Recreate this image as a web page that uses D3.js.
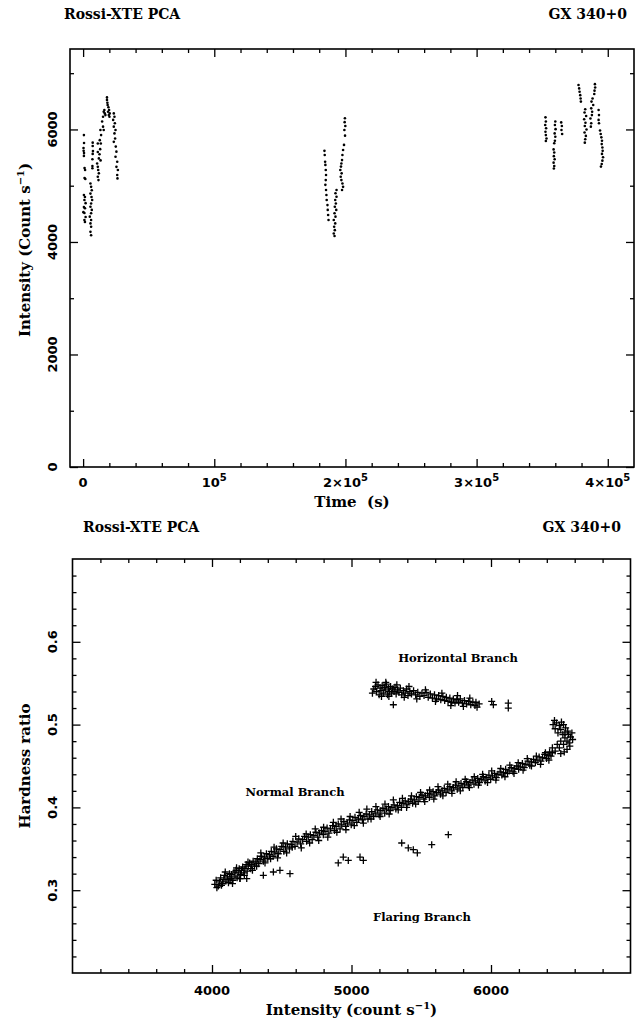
<!DOCTYPE html>
<html><head><meta charset="utf-8">
<script src="https://cdn.jsdelivr.net/npm/d3@7"></script>
<style>body{margin:0;background:#fff}</style>
</head><body><svg id="c" width="636" height="1022"></svg>
<script>
// ---------- Light curve (time s, intensity count/s) ----------
const lcCluster1 = [
 [600,5900],[700,5760],[300,5670],[400,5620],[700,5580],[600,5530],[1100,5315],[1500,5280],[1100,5135],[1700,5120],
 [600,4835],[1400,4800],[1000,4745],[1900,4690],[600,4620],[1400,4600],[200,4530],[1000,4515],[1900,4445],[1000,4390],[1400,4355],
 [7300,5765],[7300,5705],[7500,5615],[7300,5565],[7100,5470],[7100,5350],[7100,5310],
 [5600,5040],[6100,4980],[6600,4920],[5600,4860],[6400,4800],[6900,4745],[6100,4685],[5600,4625],[6600,4570],[6100,4510],[5100,4450],[6100,4390],[5600,4330],[6100,4270],[5600,4180],[6100,4120],
 [11200,5750],[11200,5600],[12000,5485],[10700,5395],[11200,5335],[11500,5280],[12000,5220],[11200,5160],[11700,5100],
 [13200,5990],[13700,5900],[12700,5810],[13500,5750],[13000,5650],[12500,5560],[13300,5450],
 [14500,6140],[15200,6225],[15700,6315],[16500,6285],[16200,6345],[17000,6255],[15200,6050],[15700,5990],
 [18200,6570],[18200,6525],[18500,6475],[18700,6435],[19300,6395],[19800,6345],[19000,6315],[20300,6285],[19600,6255],[20100,6225],
 [23400,6285],[23900,6225],[22900,6170],[24200,6110],[23400,6050],[24700,5990],[23900,5930],[24400,5840],[23400,5780],[24900,5695],
 [25400,5605],[24700,5515],[26000,5425],[25400,5335],[26500,5280],[26000,5190],[26200,5130]
];
const lcCluster2 = [
 [184000,5620],[184200,5545],[184500,5425],[184700,5370],[185000,5280],[185200,5190],[185000,5100],[184700,5015],[185200,4925],
 [185500,4835],[185700,4745],[186300,4655],[186500,4570],[186800,4480],[187100,4390],
 [193200,4925],[192400,4865],[193200,4805],[192200,4745],[192700,4685],[191900,4625],[193000,4570],[191700,4510],[192400,4450],[191100,4390],[192200,4330],[191400,4270],[191900,4210],[191100,4150],[191700,4105],
 [199700,5890],[198900,5725],[198200,5635],[197700,5545],[197400,5455],[196900,5395],[196600,5340],[196100,5280],[197100,5220],[196400,5160],[196900,5100],[197700,5040],[198200,4980],[197400,4925],
 [199600,6200],[199400,6130],[199900,6060],[199200,5990]
];
const lcCluster3 = [
 [352500,6215],[352800,6140],[352300,6080],[353000,6020],[352500,5960],[352800,5900],[353300,5840],[352800,5795],
 [360000,6140],[359700,6080],[360200,6005],[359500,5930],[360000,5870],[359700,5800],[359200,5755],
 [358700,5645],[359200,5590],[358900,5525],[359500,5470],[358700,5410],[359200,5350],[358900,5305],
 [364500,6125],[365000,6060],[364700,5990],[365200,5920],
 [377700,6790],[378200,6730],[378500,6670],[379000,6610],[379300,6550],[379500,6495],
 [382800,6360],[382300,6300],[383500,6240],[382000,6180],[383000,6120],[382500,6060],[383800,6000],[382300,5945],[383300,5885],[382800,5825],[382500,5765],
 [390200,6805],[390400,6745],[389900,6690],[389700,6630],[388400,6550],[387600,6495],[388900,6435],[387400,6375],[388100,6315],[387900,6255],[386800,6195],[387400,6110],[387100,6050],
 [393000,6345],[393300,6255],[393000,6170],[393300,6110],
 [394100,5980],[394600,5920],[395100,5860],[395600,5800],[395400,5740],[395900,5680],[396100,5620],[395600,5565],[396400,5505],[395900,5445],[395400,5385],[394800,5340]
];

// ---------- Hardness-intensity diagram (intensity, hardness ratio) ----------
const hidNormal = [
 [4020,.307],[4030,.312],[4045,.305],[4055,.310],[4062,.315],[4075,.308],[4085,.313],[4090,.318],[4100,.311],[4110,.316],
 [4118,.309],[4125,.320],[4135,.314],[4140,.319],[4150,.312],[4158,.322],[4165,.317],[4172,.324],[4180,.315],[4188,.321],
 [4195,.326],[4205,.319],[4212,.324],[4220,.328],[4228,.321],[4236,.326],[4245,.331],[4252,.323],[4260,.329],[4270,.333],
 [4278,.326],[4285,.331],[4295,.335],[4305,.329],[4315,.334],[4325,.338],[4335,.332],[4345,.337],[4355,.341],[4368,.335],
 [4378,.340],[4390,.344],[4400,.338],[4412,.343],[4425,.347],[4438,.341],[4450,.346],[4462,.350],[4475,.344],[4488,.349],
 [4500,.353],[4515,.347],[4528,.352],[4540,.356],[4555,.350],[4568,.355],[4580,.359],[4595,.353],[4610,.358],[4622,.362],
 [4636,.356],[4650,.361],[4663,.365],[4678,.359],[4690,.364],[4705,.367],[4718,.361],[4730,.366],[4745,.370],[4758,.364],
 [4770,.369],[4785,.372],[4798,.367],[4810,.371],[4825,.375],[4838,.369],[4850,.374],[4865,.378],[4878,.372],[4890,.377],
 [4905,.380],[4918,.374],[4930,.379],[4945,.383],[4958,.377],[4970,.381],[4985,.385],[4998,.379],[5010,.384],[5025,.388],
 [5038,.382],[5050,.386],[5065,.390],[5078,.385],[5090,.389],[5105,.392],[5118,.386],[5130,.391],[5145,.395],[5158,.389],
 [5170,.393],[5185,.397],[5198,.391],[5210,.396],[5225,.399],[5238,.393],[5250,.398],[5265,.401],[5278,.396],[5290,.400],
 [5305,.403],[5318,.398],[5330,.402],[5345,.406],[5358,.400],[5370,.405],[5385,.408],[5398,.403],[5410,.407],[5425,.410],
 [5438,.405],[5450,.409],[5465,.413],[5478,.407],[5490,.412],[5505,.415],[5518,.410],[5530,.414],[5545,.417],[5558,.412],
 [5570,.416],[5585,.419],[5598,.414],[5610,.418],[5625,.421],[5638,.416],[5650,.420],[5665,.423],[5678,.418],[5690,.422],
 [5705,.425],[5718,.420],[5730,.424],[5745,.427],[5758,.422],[5770,.426],[5785,.429],[5798,.424],[5810,.428],[5825,.431],
 [5838,.426],[5850,.430],[5865,.433],[5878,.428],[5890,.432],[5905,.435],[5918,.430],[5930,.434],[5945,.437],[5958,.432],
 [5970,.436],[5985,.439],[5998,.434],[6010,.438],[6025,.441],[6038,.436],[6050,.440],[6065,.443],[6078,.439],[6090,.442],
 [6105,.446],[6118,.441],[6130,.444],[6145,.448],[6158,.443],[6170,.447],[6185,.450],[6198,.446],[6210,.449],[6225,.453],
 [6238,.448],[6250,.452],[6265,.456],[6278,.451],[6290,.455],[6305,.458],[6318,.454],[6330,.457],[6345,.461],[6358,.456],
 [6370,.460],[6385,.464],[6398,.459],[6410,.463],[6420,.467],[6430,.462],[6440,.466]
];
const hidNormalExtra = [
 [4035,.303],[4068,.306],[4095,.322],[4122,.313],[4147,.308],[4176,.327],[4200,.314],[4232,.318],[4258,.334],[4290,.324],
 [4320,.329],[4350,.345],[4380,.333],[4420,.338],[4445,.352],[4470,.339],[4510,.357],[4535,.345],[4575,.352],[4600,.365],
 [4640,.351],[4675,.368],[4700,.357],[4740,.374],[4765,.360],[4800,.376],[4830,.364],[4870,.382],[4895,.370],[4925,.386],
 [4960,.373],[4990,.389],[5020,.378],[5055,.394],[5085,.381],[5110,.398],[5140,.386],[5175,.401],[5205,.389],[5240,.404],
 [5270,.392],[5300,.409],[5335,.397],[5365,.411],[5395,.400],[5430,.414],[5460,.404],[5495,.418],[5525,.407],[5560,.421],
 [5590,.410],[5620,.425],[5655,.414],[5690,.428],[5720,.417],[5750,.431],[5780,.420],[5815,.434],[5845,.424],[5880,.437],
 [5910,.427],[5940,.440],[5975,.430],[6005,.444],[6035,.433],[6070,.447],[6100,.437],[6135,.451],[6165,.441],[6195,.454],
 [6230,.445],[6260,.459],[6290,.450],[6325,.462],[6355,.452],[6390,.466],[6415,.457]
];
const hidHook = [
 [6440,.472],[6460,.468],[6475,.476],[6490,.472],[6500,.480],[6520,.476],[6530,.484],[6545,.480],[6555,.488],[6560,.478],
 [6570,.485],[6550,.492],[6535,.496],[6520,.500],[6505,.503],[6490,.499],[6470,.502],[6455,.505],[6445,.500],[6460,.495],
 [6480,.490],[6500,.494],[6515,.488],[6530,.490],[6545,.470],[6565,.474],[6580,.490],[6585,.482],[6525,.467],[6500,.465]
];
const hidHorizontal = [
 [5150,.538],[5160,.543],[5172,.546],[5180,.540],[5190,.548],[5198,.536],[5205,.544],[5212,.541],[5220,.547],[5228,.538],
 [5235,.545],[5242,.542],[5250,.549],[5258,.536],[5265,.544],[5272,.540],[5280,.546],[5288,.538],[5295,.543],[5300,.524],
 [5305,.540],[5312,.545],[5320,.537],[5330,.542],[5340,.539],[5350,.544],[5360,.536],[5372,.541],[5385,.538],[5395,.543],
 [5405,.535],[5418,.540],[5430,.537],[5445,.541],[5460,.536],[5475,.539],[5490,.534],[5505,.538],[5520,.535],[5535,.539],
 [5550,.533],[5565,.537],[5580,.532],[5595,.536],[5610,.531],[5625,.535],[5640,.530],[5655,.534],[5668,.529],[5680,.533],
 [5692,.528],[5705,.532],[5718,.527],[5730,.531],[5742,.526],[5755,.530],[5768,.527],[5780,.531],[5795,.526],[5810,.529],
 [5825,.525],[5840,.528],[5855,.524],[5870,.527],[5885,.523],[5900,.521],[5915,.525],[6005,.528],[6017,.524],[6124,.526],[6124,.520],
 [5176,.551],[5215,.534],[5246,.551],[5268,.534],[5325,.548],[5378,.533],[5412,.546],[5468,.531],[5530,.542],[5602,.528],
 [5648,.538],[5712,.523],[5760,.535],[5802,.522],[5848,.532],[5892,.527]
];
const hidFlaring = [
 [4905,.333],[4941,.340],[4977,.336],[5061,.340],[5085,.336],[5360,.357],[5407,.351],[5443,.349],[5472,.345],[5575,.355],[5694,.367],
 [4201,.314],[4249,.314],[4368,.318],[4440,.322],[4487,.324],[4559,.320]
];

const topXTicks = [0,100000,200000,300000,400000];
const topXTickLabels = [["0",""],["10","5"],["2×10","5"],["3×10","5"],["4×10","5"]];
const topYTicks = [0,2000,4000,6000];
const botXTicks = [4000,5000,6000];
const botYTicks = [0.3,0.4,0.5,0.6];
const branchLabels = [["Horizontal Branch",5763,0.580],["Normal Branch",4595,0.419],["Flaring Branch",5505,0.268]];

const svg = d3.select("#c");
const SERIF = "'DejaVu Serif', serif";
const SANS = "'DejaVu Sans', sans-serif";

function frameAxes(x, y, xMaj, xMin, yMaj, yMin) {
  const [x0,x1] = x.range(), [y0,y1] = y.range();
  const g = svg.append("g");
  const add = (fn, sc, vals, size, tr) => {
    const s = g.append("g").attr("transform", tr)
      .call(fn(sc).tickValues(vals).tickSize(size).tickFormat(""));
    s.select(".domain").remove();
    s.selectAll("line").attr("stroke","#000").attr("stroke-width",1.3);
  };
  add(d3.axisBottom, x, xMaj, -8, `translate(0,${y0})`);
  add(d3.axisBottom, x, xMin, -4, `translate(0,${y0})`);
  add(d3.axisTop, x, xMaj, -8, `translate(0,${y1})`);
  add(d3.axisTop, x, xMin, -4, `translate(0,${y1})`);
  add(d3.axisLeft, y, yMaj, -8, `translate(${x0},0)`);
  add(d3.axisLeft, y, yMin, -4, `translate(${x0},0)`);
  add(d3.axisRight, y, yMaj, -8, `translate(${x1},0)`);
  add(d3.axisRight, y, yMin, -4, `translate(${x1},0)`);
  g.append("rect").attr("x",x0).attr("y",y1).attr("width",x1-x0).attr("height",y0-y1)
    .attr("fill","none").attr("stroke","#000").attr("stroke-width",1.6);
}
function title(tx, ty, txt, anchor) {
  svg.append("text").attr("x",tx).attr("y",ty).attr("text-anchor",anchor)
    .attr("font-family",SERIF).attr("font-weight","bold").attr("font-size",14).text(txt);
}

// ---------------- Top panel ----------------
const xT = d3.scaleLinear([-10000, 420000], [70, 634]);
const yT = d3.scaleLinear([0, 7430], [467, 49]);
title(64, 19, "Rossi-XTE PCA", "start");
title(627, 19, "GX 340+0", "end");
frameAxes(xT, yT, topXTicks, d3.range(20000, 420000, 20000).filter(v => v % 100000 !== 0),
  topYTicks, [1000,3000,5000,7000]);
const lc = svg.append("g");
[lcCluster1, lcCluster2, lcCluster3].forEach(arr => {
  lc.selectAll(null).data(arr).join("circle")
    .attr("cx", d => xT(d[0])).attr("cy", d => yT(d[1])).attr("r", 1.3).attr("fill","#000");
});
topXTicks.forEach((v,i) => {
  const t = svg.append("text").attr("x", xT(v)).attr("y", 487).attr("text-anchor","middle")
    .attr("font-family",SANS).attr("font-weight","bold").attr("font-size",13);
  t.append("tspan").text(topXTickLabels[i][0]);
  if (topXTickLabels[i][1]) t.append("tspan").attr("dy",-6).attr("font-size",10).text(topXTickLabels[i][1]);
});
topYTicks.forEach(v => {
  svg.append("text").attr("transform",`translate(57,${yT(v)}) rotate(-90)`).attr("text-anchor","middle")
    .attr("font-family",SANS).attr("font-weight","bold").attr("font-size",13).text(v);
});
svg.append("text").attr("x", (70+634)/2).attr("y", 507).attr("text-anchor","middle")
  .attr("font-family",SERIF).attr("font-weight","bold").attr("font-size",15).attr("xml:space","preserve").text("Time  (s)");
{
  const t = svg.append("text").attr("transform",`translate(30,${(49+467)/2 - 8}) rotate(-90)`).attr("text-anchor","middle")
    .attr("font-family",SERIF).attr("font-weight","bold").attr("font-size",15);
  t.append("tspan").text("Intensity (Count s");
  t.append("tspan").attr("dy",-6).attr("font-size",10).text("−1");
  t.append("tspan").attr("dy",6).text(")");
}

// ---------------- Bottom panel ----------------
const xB = d3.scaleLinear([3000, 7000], [72.5, 630.5]);
const yB = d3.scaleLinear([0.2, 0.7], [973, 559]);
title(83, 532, "Rossi-XTE PCA", "start");
title(621, 532, "GX 340+0", "end");
frameAxes(xB, yB, botXTicks, d3.range(3200, 7000, 200).filter(v => v % 1000 !== 0),
  botYTicks, d3.range(22, 70, 2).filter(v => v % 10 !== 0).map(v => v/100));
const cross = "M-3.5,0H3.5M0,-3.5V3.5";
const hid = svg.append("g");
[hidNormal, hidNormalExtra, hidHook, hidHorizontal, hidFlaring].forEach(arr => {
  hid.selectAll(null).data(arr).join("path")
    .attr("transform", d => `translate(${xB(d[0])},${yB(d[1])})`)
    .attr("d", cross).attr("stroke","#000").attr("stroke-width",1.3).attr("fill","none");
});
botXTicks.forEach(v => {
  svg.append("text").attr("x", xB(v)).attr("y", 995).attr("text-anchor","middle")
    .attr("font-family",SANS).attr("font-weight","bold").attr("font-size",13).text(v);
});
botYTicks.forEach(v => {
  svg.append("text").attr("transform",`translate(57,${yB(v)}) rotate(-90)`).attr("text-anchor","middle")
    .attr("font-family",SANS).attr("font-weight","bold").attr("font-size",13).text(v.toFixed(1));
});
branchLabels.forEach(([txt, ix, hr]) => {
  svg.append("text").attr("x", xB(ix)).attr("y", yB(hr)).attr("text-anchor","middle").attr("dy","0.35em")
    .attr("font-family",SERIF).attr("font-weight","bold").attr("font-size",11.5).text(txt);
});
{
  const t = svg.append("text").attr("x", (72.5+630.5)/2).attr("y", 1015).attr("text-anchor","middle")
    .attr("font-family",SERIF).attr("font-weight","bold").attr("font-size",15);
  t.append("tspan").text("Intensity (count s");
  t.append("tspan").attr("dy",-6).attr("font-size",10).text("−1");
  t.append("tspan").attr("dy",6).text(")");
}
svg.append("text").attr("transform",`translate(30,${(559+973)/2}) rotate(-90)`).attr("text-anchor","middle")
  .attr("font-family",SERIF).attr("font-weight","bold").attr("font-size",15).text("Hardness ratio");
</script></body></html>
